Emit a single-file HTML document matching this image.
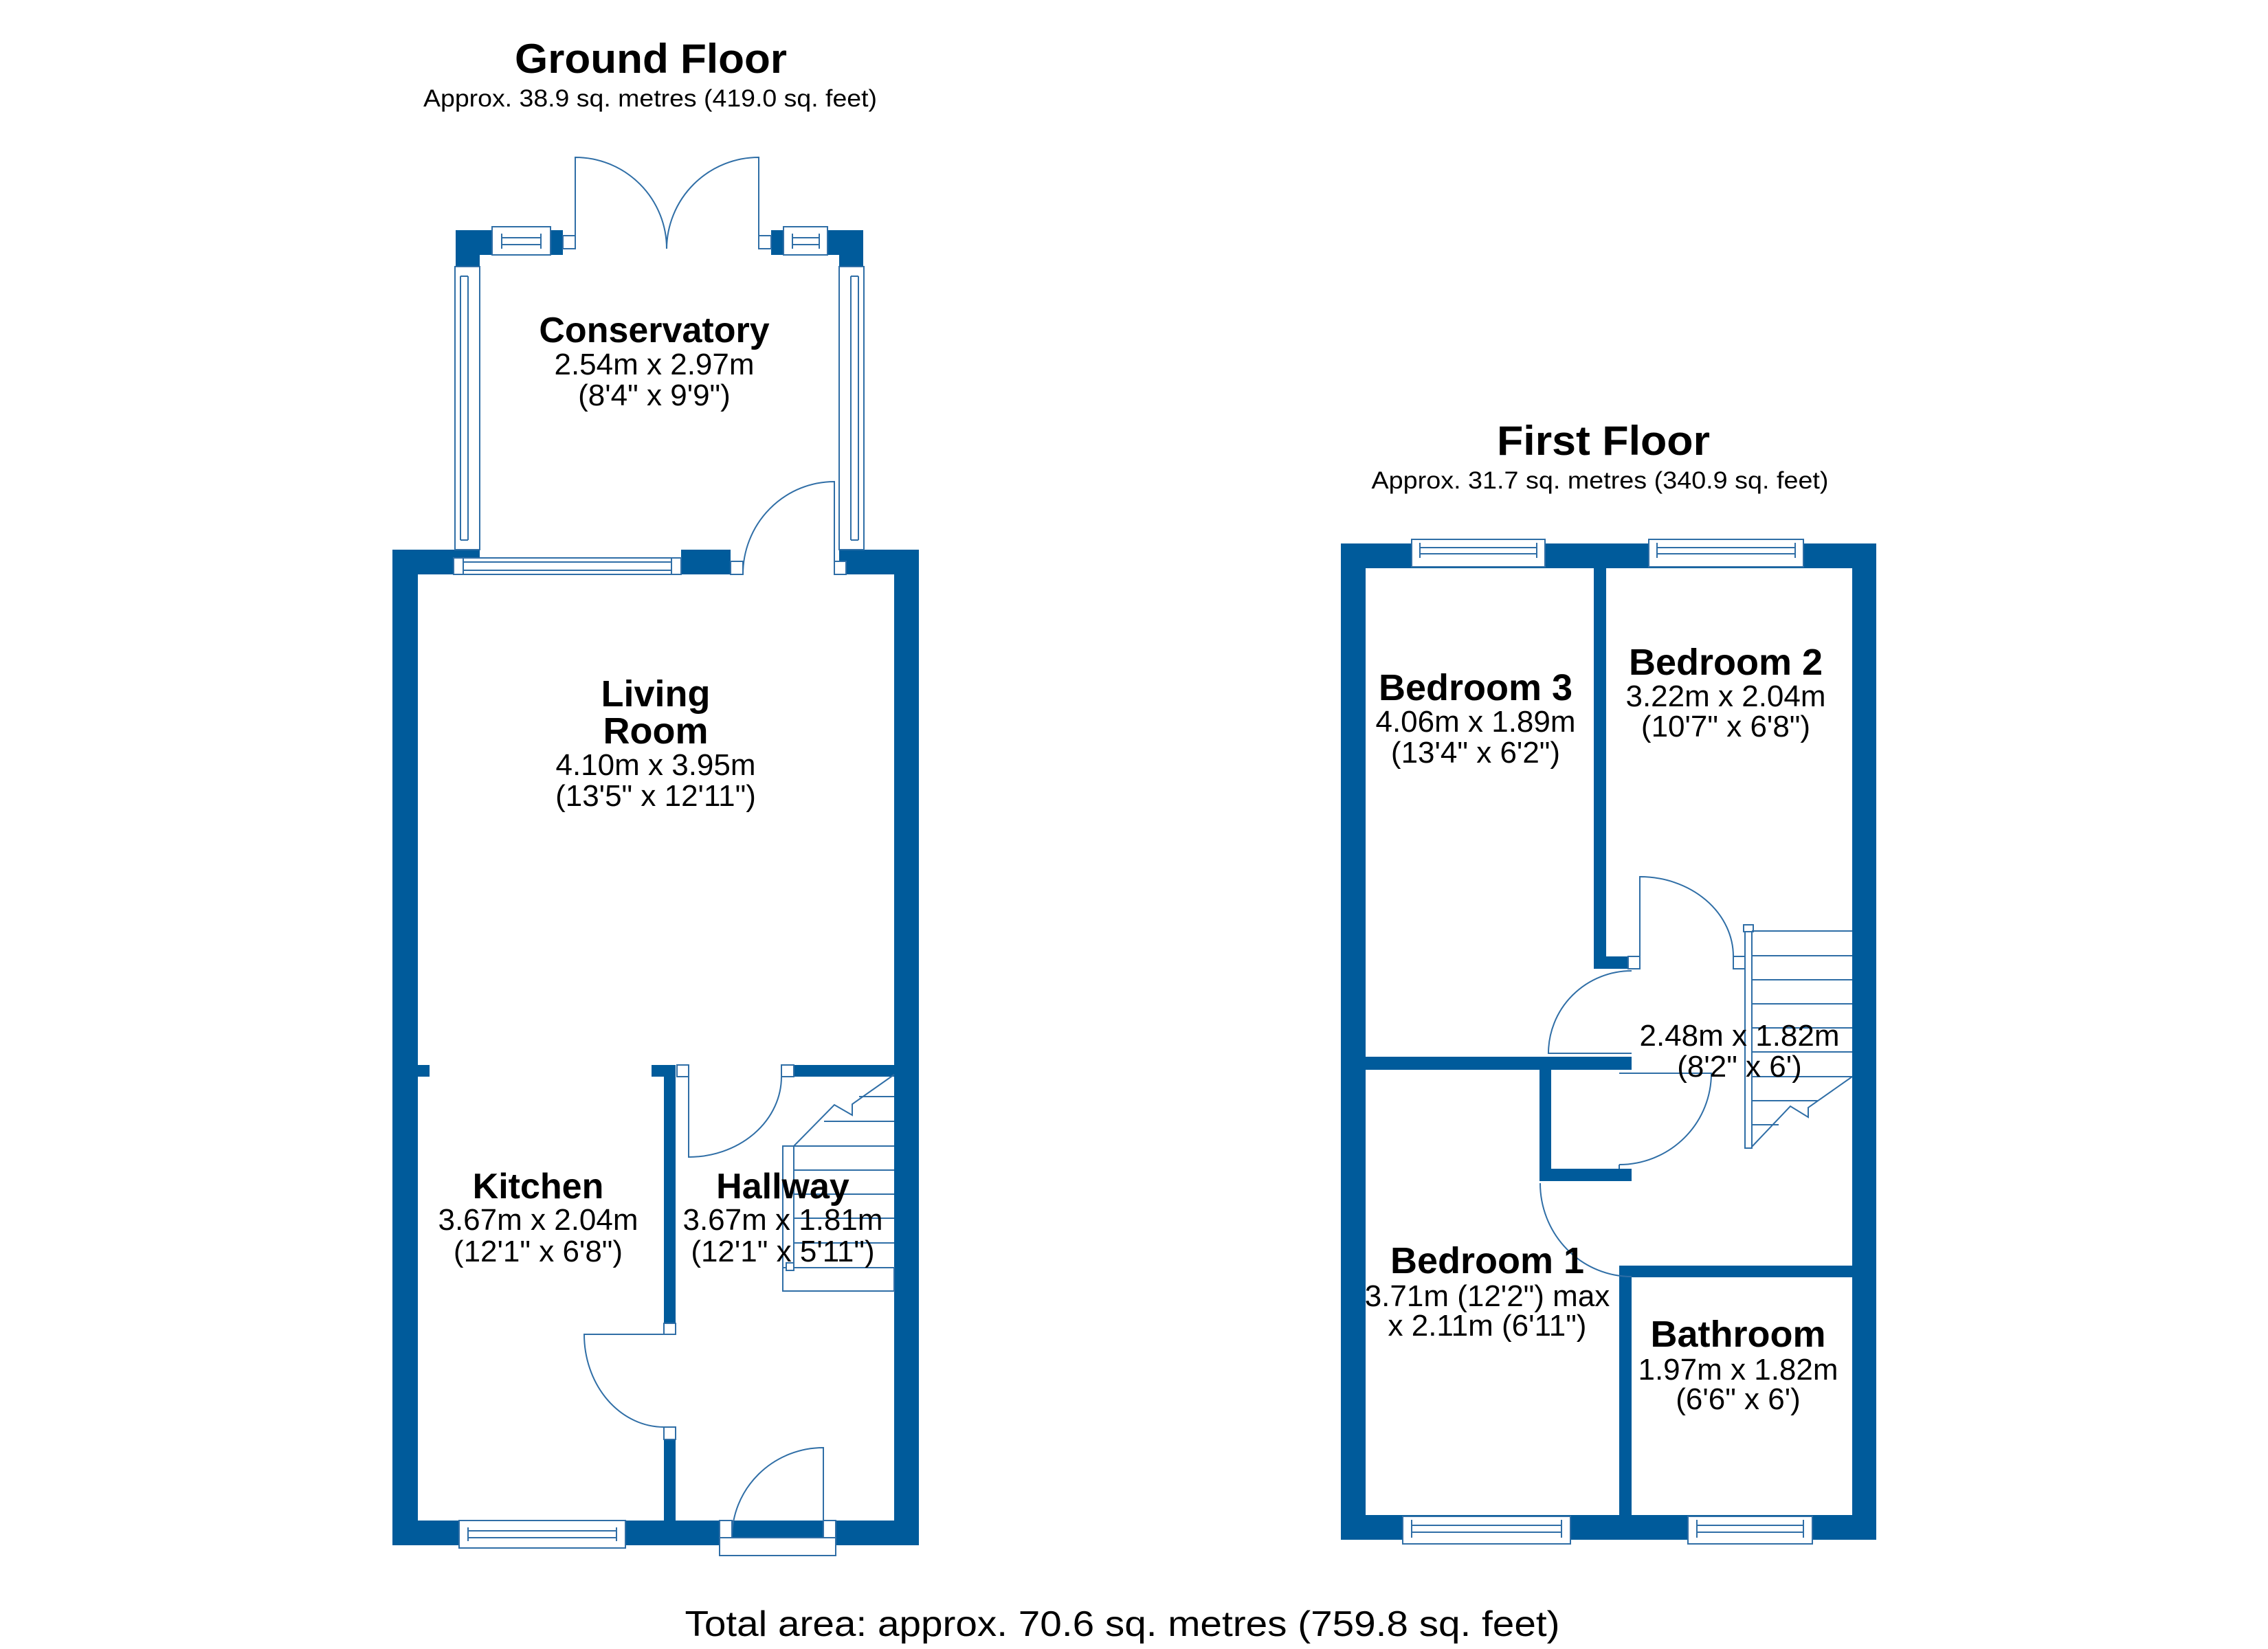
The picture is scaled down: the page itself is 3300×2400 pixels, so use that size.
<!DOCTYPE html>
<html><head><meta charset="utf-8"><style>html,body{margin:0;padding:0;background:#fff}svg{display:block}</style></head><body>
<svg xmlns="http://www.w3.org/2000/svg" width="3300" height="2400" viewBox="0 0 3300 2400">
<rect width="3300" height="2400" fill="#fff"/>
<g fill="#005b9b">
<rect x="571" y="800" width="37" height="1449"/>
<rect x="1301" y="800" width="36" height="1449"/>
<rect x="571" y="800" width="127" height="36"/>
<rect x="991" y="800" width="72" height="36"/>
<rect x="1221" y="800" width="116" height="36"/>
<rect x="571" y="2213" width="766" height="36"/>
<rect x="663" y="335" width="35" height="53"/>
<rect x="663" y="335" width="156" height="36"/>
<rect x="1122" y="335" width="134" height="36"/>
<rect x="1221" y="335" width="35" height="53"/>
<rect x="608" y="1550" width="17" height="17"/>
<rect x="948" y="1550" width="35" height="17"/>
<rect x="966" y="1550" width="17" height="376"/>
<rect x="966" y="2095" width="17" height="118"/>
<rect x="1155" y="1550" width="146" height="17"/>
<rect x="1951" y="791" width="36" height="1450"/>
<rect x="2695" y="791" width="35" height="1450"/>
<rect x="1951" y="791" width="779" height="36"/>
<rect x="1951" y="2205" width="779" height="36"/>
<rect x="2319" y="791" width="18" height="619"/>
<rect x="2319" y="1392" width="50" height="18"/>
<rect x="1987" y="1538" width="387" height="19"/>
<rect x="2240" y="1538" width="17" height="181"/>
<rect x="2240" y="1701" width="134" height="18"/>
<rect x="2374" y="1842" width="321" height="17"/>
<rect x="2356" y="1842" width="18" height="363"/>
</g>
<g fill="#fff" stroke="#2f6ea6" stroke-width="2">
<rect x="660" y="812" width="331" height="24"/>
<line x1="674" y1="818" x2="977" y2="818"/><line x1="674" y1="830" x2="977" y2="830"/>
<line x1="674" y1="812" x2="674" y2="836"/><line x1="977" y1="812" x2="977" y2="836"/>
<rect x="716" y="330" width="85" height="41"/>
<line x1="730" y1="346" x2="787" y2="346"/><line x1="730" y1="356" x2="787" y2="356"/>
<line x1="730" y1="340" x2="730" y2="362"/><line x1="787" y1="340" x2="787" y2="362"/>
<rect x="1140" y="330" width="64" height="41"/>
<line x1="1153" y1="346" x2="1192" y2="346"/><line x1="1153" y1="356" x2="1192" y2="356"/>
<line x1="1153" y1="340" x2="1153" y2="362"/><line x1="1192" y1="340" x2="1192" y2="362"/>
<rect x="662" y="388" width="36" height="412"/>
<line x1="670" y1="402" x2="670" y2="786"/><line x1="681" y1="402" x2="681" y2="786"/>
<line x1="670" y1="402" x2="681" y2="402"/><line x1="670" y1="786" x2="681" y2="786"/>
<rect x="1221" y="388" width="36" height="412"/>
<line x1="1238" y1="402" x2="1238" y2="786"/><line x1="1249" y1="402" x2="1249" y2="786"/>
<line x1="1238" y1="402" x2="1249" y2="402"/><line x1="1238" y1="786" x2="1249" y2="786"/>
<rect x="668" y="2213" width="242" height="40"/>
<line x1="681" y1="2228" x2="897" y2="2228"/><line x1="681" y1="2238" x2="897" y2="2238"/>
<line x1="681" y1="2223" x2="681" y2="2243"/><line x1="897" y1="2223" x2="897" y2="2243"/>
<rect x="819" y="343" width="18" height="19"/>
<rect x="1104" y="343" width="18" height="19"/>
<rect x="1063" y="817" width="18" height="19"/>
<rect x="1214" y="817" width="17" height="19"/>
<rect x="985" y="1550" width="17" height="17"/>
<rect x="1137" y="1550" width="18" height="17"/>
<rect x="966" y="1926" width="17" height="16"/>
<rect x="966" y="2077" width="17" height="18"/>
<rect x="1047" y="2213" width="18" height="25"/>
<rect x="1198" y="2213" width="18" height="25"/>
<rect x="1047" y="2238" width="169" height="26"/>
<rect x="2054" y="785" width="194" height="40"/>
<line x1="2066" y1="797" x2="2236" y2="797"/><line x1="2066" y1="806" x2="2236" y2="806"/>
<line x1="2066" y1="790" x2="2066" y2="812"/><line x1="2236" y1="790" x2="2236" y2="812"/>
<rect x="2399" y="785" width="225" height="40"/>
<line x1="2411" y1="797" x2="2612" y2="797"/><line x1="2411" y1="806" x2="2612" y2="806"/>
<line x1="2411" y1="790" x2="2411" y2="812"/><line x1="2612" y1="790" x2="2612" y2="812"/>
<rect x="2041" y="2207" width="244" height="40"/>
<line x1="2054" y1="2220" x2="2272" y2="2220"/><line x1="2054" y1="2230" x2="2272" y2="2230"/>
<line x1="2054" y1="2212" x2="2054" y2="2238"/><line x1="2272" y1="2212" x2="2272" y2="2238"/>
<rect x="2456" y="2207" width="181" height="40"/>
<line x1="2469" y1="2220" x2="2624" y2="2220"/><line x1="2469" y1="2230" x2="2624" y2="2230"/>
<line x1="2469" y1="2212" x2="2469" y2="2238"/><line x1="2624" y1="2212" x2="2624" y2="2238"/>
<rect x="2369" y="1392" width="17" height="18"/>
<rect x="2522" y="1392" width="17" height="18"/>
</g>
<g fill="none" stroke="#2f6ea6" stroke-width="2">
<path d="M837 362 V229 A133 133 0 0 1 970 362"/>
<path d="M1104 362 V229 A134 134 0 0 0 970 362"/>
<path d="M1214 836 V701 A133 135 0 0 0 1081 836"/>
<path d="M1002 1567 V1684 A135 117 0 0 0 1137 1567"/>
<path d="M966 1942 H850 A116 135 0 0 0 966 2077"/>
<path d="M1198 2238 V2107 A133 131 0 0 0 1065 2238"/>
<path d="M1301 1564 L1240 1607 L1240 1623 L1214 1608 L1155 1668"/>
<line x1="1250" y1="1596" x2="1301" y2="1596"/>
<line x1="1199" y1="1632" x2="1301" y2="1632"/>
<line x1="1155" y1="1668" x2="1301" y2="1668"/>
<line x1="1155" y1="1703" x2="1301" y2="1703"/>
<line x1="1155" y1="1738" x2="1301" y2="1738"/>
<line x1="1155" y1="1773" x2="1301" y2="1773"/>
<line x1="1155" y1="1809" x2="1301" y2="1809"/>
<rect x="1139" y="1668" width="16" height="177"/>
<rect x="1139" y="1845" width="162" height="34"/>
<rect x="1144" y="1838" width="11" height="11" fill="#fff"/>
<path d="M2386 1392 V1276 A136 116 0 0 1 2522 1392"/>
<path d="M2374 1533 H2253 A121 120 0 0 1 2374 1413"/>
<path d="M2356 1562 H2490 A134 133 0 0 1 2356 1695"/>
<line x1="2356" y1="1695" x2="2356" y2="1701"/>
<path d="M2241 1722 A133 136 0 0 0 2374 1858"/>
<rect x="2539" y="1351" width="10" height="320"/>
<rect x="2537" y="1346" width="14" height="10" fill="#fff"/>
<line x1="2549" y1="1355" x2="2695" y2="1355"/>
<line x1="2549" y1="1391" x2="2695" y2="1391"/>
<line x1="2549" y1="1426" x2="2695" y2="1426"/>
<line x1="2549" y1="1461" x2="2695" y2="1461"/>
<line x1="2549" y1="1496" x2="2695" y2="1496"/>
<line x1="2549" y1="1531" x2="2695" y2="1531"/>
<line x1="2549" y1="1567" x2="2695" y2="1567"/>
<path d="M2695 1567 L2631 1612 L2631 1626 L2605 1610 L2549 1669"/>
<line x1="2549" y1="1602" x2="2645" y2="1602"/>
<line x1="2549" y1="1637" x2="2588" y2="1637"/>
</g>
<g font-family="Liberation Sans, Arial, sans-serif" fill="#000" text-anchor="middle">
<text x="947" y="106" font-size="60" font-weight="bold" textLength="396" lengthAdjust="spacingAndGlyphs">Ground Floor</text>
<text x="946" y="155" font-size="35" textLength="660" lengthAdjust="spacingAndGlyphs">Approx. 38.9 sq. metres (419.0 sq. feet)</text>
<text x="2333" y="662" font-size="60" font-weight="bold" textLength="310" lengthAdjust="spacingAndGlyphs">First Floor</text>
<text x="2328" y="711" font-size="35" textLength="665" lengthAdjust="spacingAndGlyphs">Approx. 31.7 sq. metres (340.9 sq. feet)</text>
<text x="1633" y="2381" font-size="52" textLength="1273" lengthAdjust="spacingAndGlyphs">Total area: approx. 70.6 sq. metres (759.8 sq. feet)</text>

<text x="952" y="498" font-size="52" font-weight="bold">Conservatory</text>
<text x="952" y="545" font-size="44">2.54m x 2.97m</text>
<text x="952" y="590" font-size="44">(8'4" x 9'9")</text>

<text x="954" y="1028" font-size="54" font-weight="bold">Living</text>
<text x="954" y="1082" font-size="54" font-weight="bold">Room</text>
<text x="954" y="1128" font-size="44">4.10m x 3.95m</text>
<text x="954" y="1173" font-size="44">(13'5" x 12'11")</text>

<text x="783" y="1744" font-size="52" font-weight="bold">Kitchen</text>
<text x="783" y="1790" font-size="44">3.67m x 2.04m</text>
<text x="783" y="1836" font-size="44">(12'1" x 6'8")</text>

<text x="1139" y="1744" font-size="52" font-weight="bold">Hallway</text>
<text x="1139" y="1790" font-size="44">3.67m x 1.81m</text>
<text x="1139" y="1836" font-size="44">(12'1" x 5'11")</text>

<text x="2147" y="1019" font-size="54" font-weight="bold">Bedroom 3</text>
<text x="2147" y="1065" font-size="44">4.06m x 1.89m</text>
<text x="2147" y="1110" font-size="44">(13'4" x 6'2")</text>

<text x="2511" y="982" font-size="54" font-weight="bold">Bedroom 2</text>
<text x="2511" y="1028" font-size="44">3.22m x 2.04m</text>
<text x="2511" y="1072" font-size="44">(10'7" x 6'8")</text>

<text x="2531" y="1522" font-size="44">2.48m x 1.82m</text>
<text x="2531" y="1567" font-size="44">(8'2" x 6')</text>

<text x="2164" y="1853" font-size="54" font-weight="bold">Bedroom 1</text>
<text x="2164" y="1901" font-size="44">3.71m (12'2") max</text>
<text x="2164" y="1944" font-size="44">x 2.11m (6'11")</text>

<text x="2529" y="1960" font-size="54" font-weight="bold">Bathroom</text>
<text x="2529" y="2008" font-size="44">1.97m x 1.82m</text>
<text x="2529" y="2051" font-size="44">(6'6" x 6')</text>
</g>
</svg>
</body></html>
